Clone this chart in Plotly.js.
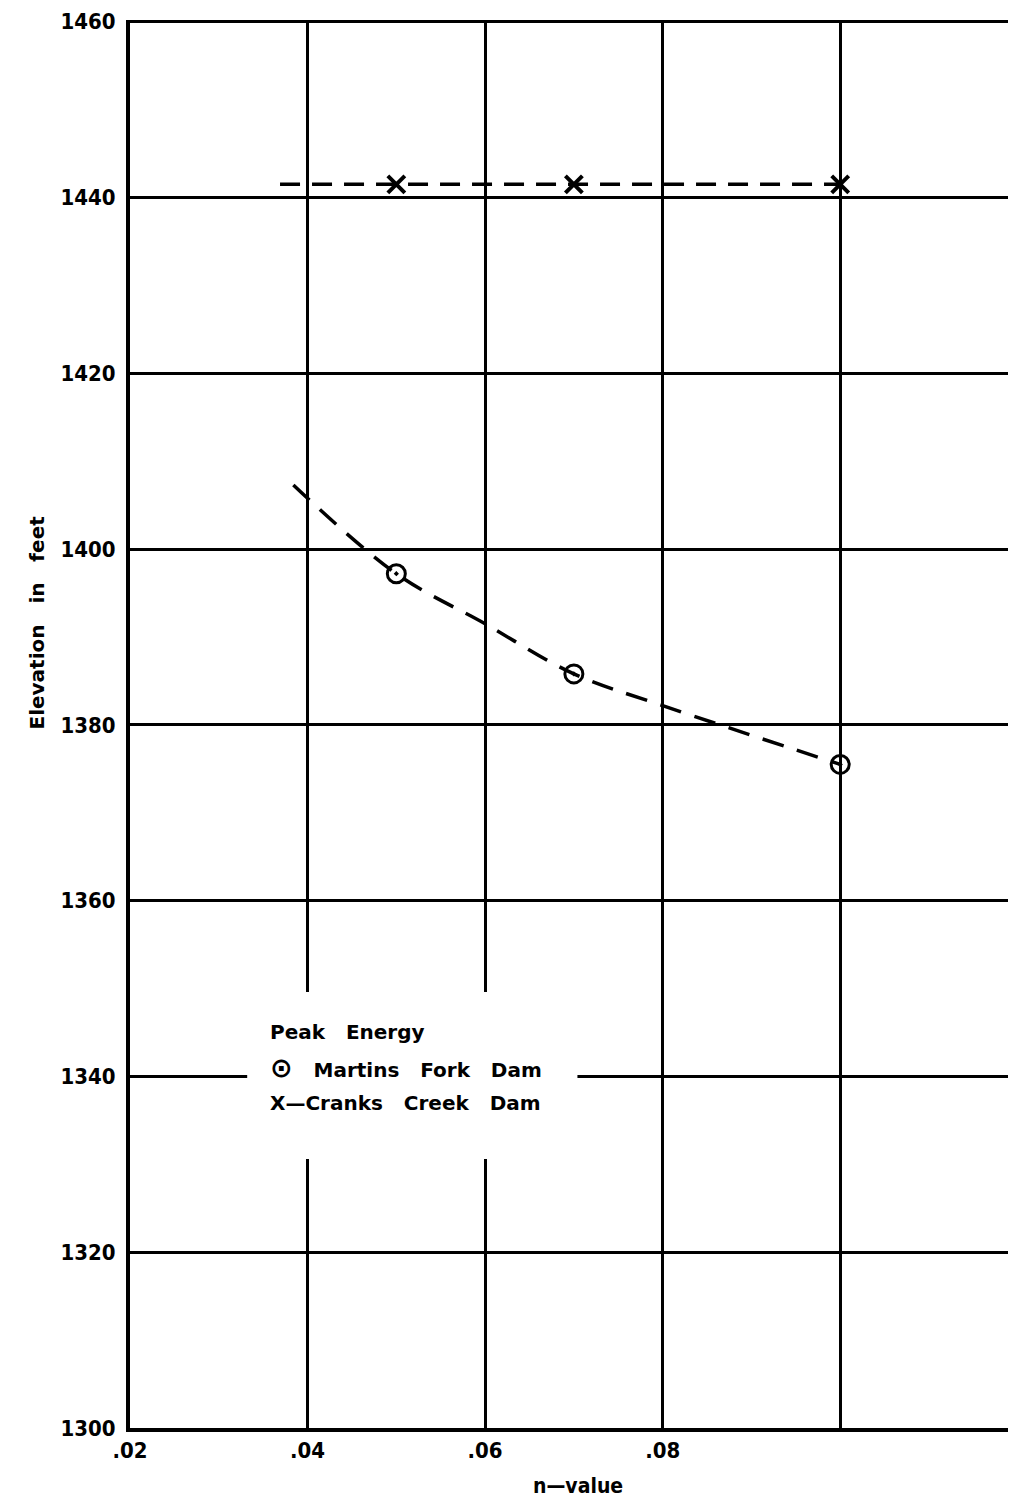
<!DOCTYPE html>
<html>
<head>
<meta charset="utf-8">
<script src="https://cdn.plot.ly/plotly-3.0.1.min.js"></script>
<style>body{margin:0;background:#fff;}#chart{width:1010px;height:1498px;}</style>
</head>
<body>
<div id="chart"></div>
<script>
// Data
const nValues = [0.05, 0.07, 0.10];
const martinsFork = [1397.2, 1385.8, 1375.5];
const cranksCreek = [1441.5, 1441.5, 1441.5];
// drawn (faired) curves through the points
const martinsCurveX = [0.0384, 0.05, 0.06, 0.07, 0.08, 0.10];
const martinsCurveY = [1407.3, 1397.2, 1391.5, 1385.8, 1382.2, 1375.5];
const cranksCurveX = [0.0369, 0.05, 0.07, 0.10];
const cranksCurveY = [1441.5, 1441.5, 1441.5, 1441.5];
const xTicks = [0.02, 0.04, 0.06, 0.08, 0.10];
const xTickText = ['.02', '.04', '.06', '.08', ''];
const yTicks = [1300, 1320, 1340, 1360, 1380, 1400, 1420, 1440, 1460];
const legendLines = ['Peak   Energy', '<span style="font-size:27px">\u2299</span>   Martins   Fork   Dam', 'X\u2014Cranks   Creek   Dam'];

const tickFont = {family: 'DejaVu Sans Condensed, DejaVu Sans, sans-serif', size: 22, color: '#000', weight: 'bold'};
const textFont = {family: 'DejaVu Sans, sans-serif', size: 20, color: '#000', weight: 'bold'};

const traces = [
  {x: martinsCurveX, y: martinsCurveY, mode: 'lines', line: {color: '#000', width: 3.5, dash: '22px,14px', shape: 'spline'}, hoverinfo: 'skip'},
  {x: cranksCurveX, y: cranksCurveY, mode: 'lines', line: {color: '#000', width: 3.5, dash: '20px,12px'}, hoverinfo: 'skip'},
  {x: nValues, y: martinsFork, mode: 'markers', marker: {symbol: 'circle-open-dot', size: 18, color: '#000', line: {width: 3, color: '#000'}}},
  {x: nValues, y: cranksCreek, mode: 'markers', marker: {symbol: 'x-thin-open', size: 17, color: '#000', line: {width: 4, color: '#000'}}}
];

const annotations = legendLines.map((t, i) => ({
  text: t, xref: 'x', yref: 'y', x: 0.0356, y: 1345.0 - i * 4.0, xanchor: 'left', yanchor: 'middle',
  showarrow: false, font: textFont
}));
annotations.push({text: 'Elevation   in   feet', xref: 'paper', yref: 'paper', x: -0.122, y: 0.572,
  textangle: -90, showarrow: false, font: {family: 'DejaVu Sans, sans-serif', size: 20, color: '#000', weight: 'bold'}});
annotations.push({text: 'n\u2014value', xref: 'paper', yref: 'paper', x: 0.51, y: -0.041, yanchor: 'middle',
  showarrow: false, font: {family: 'DejaVu Sans Condensed, DejaVu Sans, sans-serif', size: 21, color: '#000', weight: 'bold'}});

const layout = {
  width: 1010, height: 1498,
  margin: {l: 130, r: 2, t: 20, b: 70},
  paper_bgcolor: '#fff', plot_bgcolor: '#fff',
  showlegend: false,
  xaxis: {range: [0.02, 0.1189], tickvals: xTicks, ticktext: xTickText, showgrid: true, gridcolor: '#000', gridwidth: 3,
    showline: true, linecolor: '#000', linewidth: 4, ticks: '', tickfont: tickFont, zeroline: false, fixedrange: true},
  yaxis: {range: [1300, 1460.2], tickvals: yTicks, showgrid: true, gridcolor: '#000', gridwidth: 3,
    showline: true, linecolor: '#000', linewidth: 4, ticks: '', ticklabelstandoff: 6, tickfont: tickFont, zeroline: false, fixedrange: true},
  shapes: [
    {type: 'rect', xref: 'x', yref: 'y', x0: 0.0332, x1: 0.0704, y0: 1330.6, y1: 1349.6, fillcolor: '#fff', line: {width: 0}, layer: 'above'}
  ],
  annotations: annotations
};

Plotly.newPlot('chart', traces, layout, {staticPlot: true});
</script>
</body>
</html>
